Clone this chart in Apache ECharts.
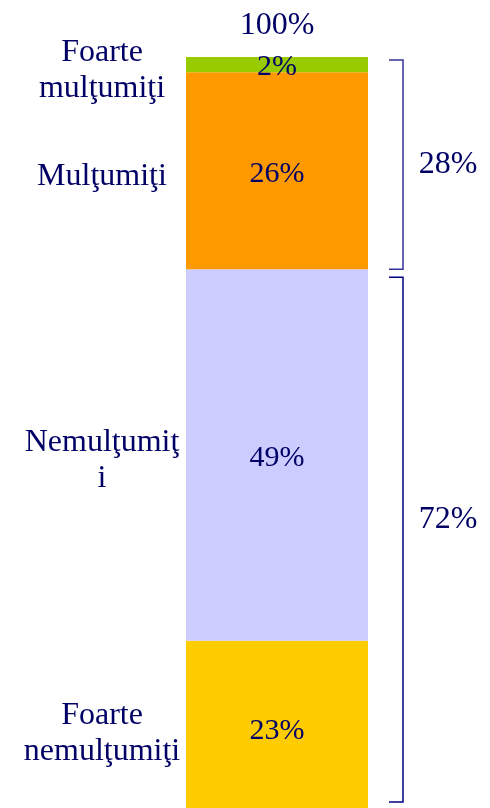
<!DOCTYPE html>
<html lang="ro">
<head>
  <meta charset="UTF-8">
  <title>Satisfacţie</title>
  <script src="https://cdn.jsdelivr.net/npm/echarts@6/dist/echarts.min.js"></script>
</head>
<body style="margin: 0;">
<div id="main" style="width: 490px; height: 808px;"></div>
<script type="text/javascript">
  // date, de jos in sus
  const categories = ['Foarte nemulţumiţi', 'Nemulţumiţi', 'Mulţumiţi', 'Foarte mulţumiţi']
  const nameLines = ['Foarte\nnemulţumiţi', 'Nemulţumiţ\ni', 'Mulţumiţi', 'Foarte\nmulţumiţi']
  const values = [23, 49, 26, 2]
  const colors = ['#FFCC00', '#CCCCFF', '#FF9900', '#99CC00']
  // acolade: [de la, pana la, eticheta]
  const groupRanges = [[0, 72], [72, 100]]
  const groupLabels = ['72%', '28%']
  const groupColors = ['#000080', '#333399']
  const totalLabel = '100%'

  const font = 'Liberation Serif, Times New Roman, serif'
  const textColor = '#000066'

  const myChart = echarts.init(document.getElementById('main'))

  const series = categories.map((name, i) => ({
    name,
    type: 'bar',
    stack: 'total',
    barWidth: '100%',
    data: [values[i]],
    itemStyle: {color: colors[i]},
    label: {
      show: true,
      position: 'inside',
      offset: [0, 3],
      formatter: '{c}%',
      color: textColor,
      fontFamily: font,
      fontSize: 30
    }
  }))

  // barul e taiat jos in original (iese din imagine)
  myChart.setOption({
    animation: false,
    grid: {left: 186, width: 182, top: 57, height: 758, outerBoundsMode: 'none', containLabel: false},
    xAxis: {type: 'category', data: ['total'], show: false},
    yAxis: {type: 'value', min: 0, max: 100, show: false},
    series
  })

  const py = v => myChart.convertToPixel({yAxisIndex: 0}, v)
  const left = 186
  const right = 368

  const graphics = []

  // numele categoriilor in stanga
  let acc = 0
  values.forEach((v, i) => {
    const mid = py(acc + v / 2)
    acc += v
    graphics.push({
      type: 'text',
      x: left - 84,
      y: mid + 6,
      style: {
        text: nameLines[i],
        fill: textColor,
        font: '32px ' + font,
        align: 'center',
        verticalAlign: 'middle',
        lineHeight: 36
      }
    })
  })

  // total deasupra
  graphics.push({
    type: 'text',
    x: (left + right) / 2,
    y: py(100) - 31,
    style: {text: totalLabel, fill: textColor, font: '32px ' + font, align: 'center', verticalAlign: 'middle'}
  })

  // acolade in dreapta
  groupRanges.forEach(([a, b], i) => {
    const yTop = py(b) + (b === 100 ? 3 : 8)
    const yBot = py(a) - (a === 0 ? 13 : 0)
    const x1 = right + 21
    const x2 = right + 35
    graphics.push({
      type: 'polyline',
      shape: {points: [[x1, yTop], [x2, yTop], [x2, yBot], [x1, yBot]]},
      style: {stroke: groupColors[i], lineWidth: 1.5, fill: null}
    })
    graphics.push({
      type: 'text',
      x: right + 80,
      y: (yTop + yBot) / 2 - (a === 0 ? 20 : 0),
      style: {text: groupLabels[i], fill: textColor, font: '32px ' + font, align: 'center', verticalAlign: 'middle'}
    })
  })

  myChart.setOption({graphic: graphics})
</script>
</body>
</html>
